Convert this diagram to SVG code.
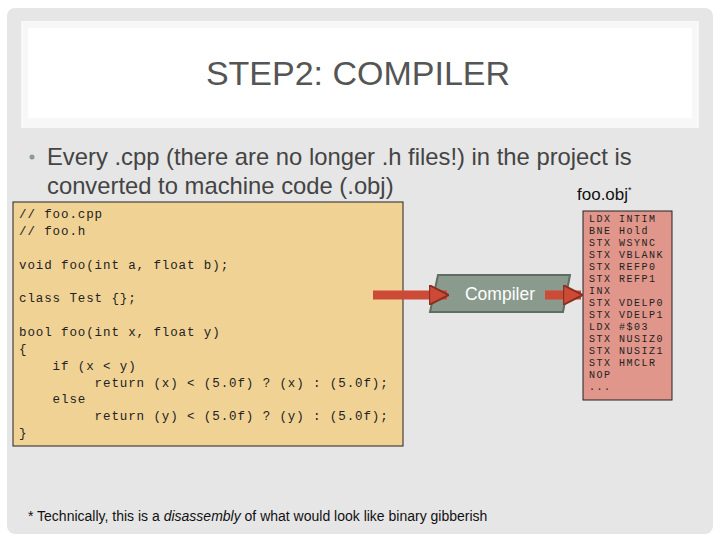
<svg xmlns="http://www.w3.org/2000/svg" width="720" height="540" viewBox="0 0 720 540">
<style>
.code{font-family:"Liberation Mono","DejaVu Sans Mono",monospace;font-size:12.5px;letter-spacing:0.9px;fill:#222}
.asm{font-family:"Liberation Mono","DejaVu Sans Mono",monospace;font-size:10px;letter-spacing:1.5px;fill:#222}
.sans{font-family:"Liberation Sans",Arial,sans-serif}
</style>
<defs>
<marker id="ah" viewBox="0 0 10 10" refX="9" refY="5" markerWidth="2.2" markerHeight="2.2" orient="auto" markerUnits="strokeWidth"><path d="M0,0 L10,5 L0,10 z" fill="#cc4a36" stroke="#8a2e20" stroke-width="1"/></marker>
</defs>
<rect width="720" height="540" fill="#fff"/>
<rect x="7" y="8" width="706" height="526" rx="8" fill="#e6e6e6"/>
<rect x="21" y="21" width="678" height="107" fill="#f7f7f7"/>
<rect x="28" y="28" width="664" height="90" fill="#fff"/>
<text x="358" y="85" text-anchor="middle" class="sans" font-size="34" fill="#555">STEP2: COMPILER</text>
<circle cx="32" cy="157" r="2.5" fill="#8a9a94"/>
<text class="sans" font-size="23.8" fill="#444"><tspan x="47" y="165">Every .cpp (there are no longer .h files!) in the project is</tspan><tspan x="47" y="194">converted to machine code (.obj)</tspan></text>
<g id="source">
<rect x="13" y="202" width="390" height="244" fill="#f1d295" stroke="#222" stroke-width="1"/>
<text class="code" xml:space="preserve"><tspan x="19" y="218">// foo.cpp</tspan><tspan x="19" y="235">// foo.h</tspan><tspan x="19" y="269">void foo(int a, float b);</tspan><tspan x="19" y="302">class Test {};</tspan><tspan x="19" y="336">bool foo(int x, float y)</tspan><tspan x="19" y="353">{</tspan><tspan x="19" y="370">    if (x &lt; y)</tspan><tspan x="19" y="387">         return (x) &lt; (5.0f) ? (x) : (5.0f);</tspan><tspan x="19" y="403">    else</tspan><tspan x="19" y="420">         return (y) &lt; (5.0f) ? (y) : (5.0f);</tspan><tspan x="19" y="437">}</tspan></text>
</g>
<g id="compiler">
<polygon points="438,275 570,275 563,312 430,312" fill="#8a9a8c" stroke="#5f6e64" stroke-width="2"/>
<text x="500" y="300" text-anchor="middle" class="sans" font-size="17.5" fill="#fff">Compiler</text>
</g>
<g id="obj">
<text x="577" y="200" class="sans" font-size="17" fill="#111">foo.obj<tspan dy="-7" font-size="9">*</tspan></text>
<rect x="583" y="211" width="89" height="189" fill="#e0968a" stroke="#222" stroke-width="1"/>
<text class="asm" xml:space="preserve"><tspan x="589" y="222">LDX INTIM</tspan><tspan x="589" y="234">BNE Hold</tspan><tspan x="589" y="246">STX WSYNC</tspan><tspan x="589" y="258">STX VBLANK</tspan><tspan x="589" y="270">STX REFP0</tspan><tspan x="589" y="282">STX REFP1</tspan><tspan x="589" y="294">INX</tspan><tspan x="589" y="306">STX VDELP0</tspan><tspan x="589" y="318">STX VDELP1</tspan><tspan x="589" y="330">LDX #$03</tspan><tspan x="589" y="342">STX NUSIZ0</tspan><tspan x="589" y="354">STX NUSIZ1</tspan><tspan x="589" y="366">STX HMCLR</tspan><tspan x="589" y="378">NOP</tspan><tspan x="589" y="390">...</tspan></text>
</g>
<g id="connectors">
<line x1="373" y1="295" x2="447" y2="295" stroke="#cc4a36" stroke-width="9" marker-end="url(#ah)"/>
<line x1="545" y1="295" x2="581" y2="295" stroke="#cc4a36" stroke-width="9" marker-end="url(#ah)"/>
</g>
<text x="28" y="521" class="sans" font-size="14" fill="#111">* Technically, this is a <tspan font-style="italic">disassembly</tspan> of what would look like binary gibberish</text>
</svg>
